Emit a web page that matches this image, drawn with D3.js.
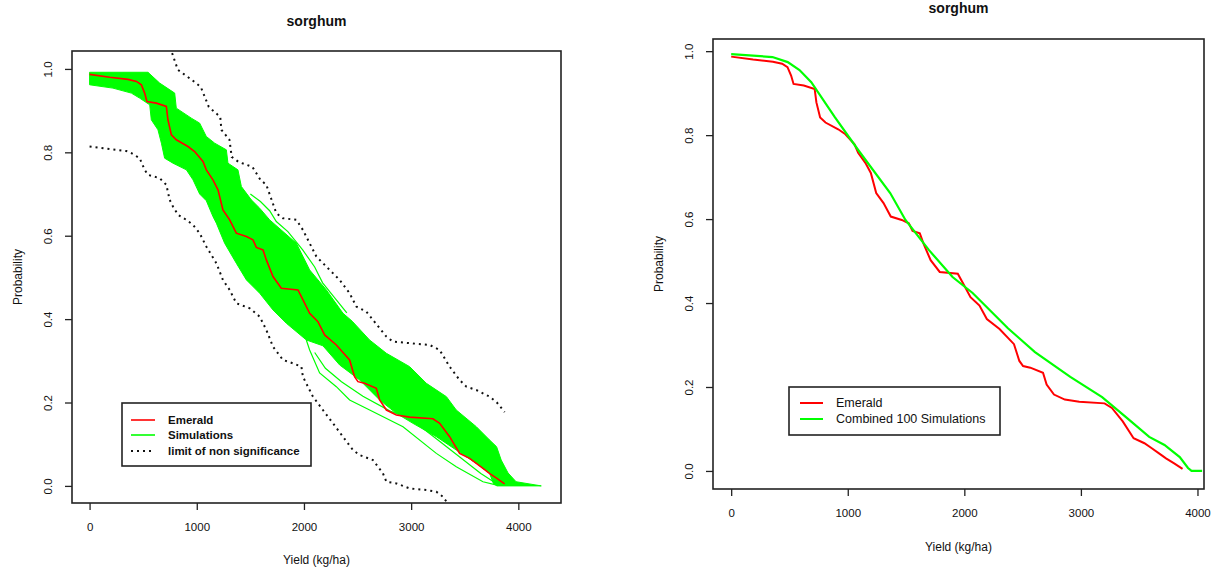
<!DOCTYPE html>
<html>
<head>
<meta charset="utf-8">
<script src="https://cdn.jsdelivr.net/npm/d3@7"></script>
<style>
  body { margin: 0; background: #fff; }
  text { font-family: "Liberation Sans", Arial, sans-serif; fill: #111; }
</style>
</head>
<body>
<svg id="chart" width="1215" height="569"></svg>
<script>
// ---- data (yield kg/ha, exceedance probability) ----
const yieldTicks = [0, 1000, 2000, 3000, 4000];
const probTicks = [0, 0.2, 0.4, 0.6, 0.8, 1.0];
const titleText = "sorghum";
const xLabelText = "Yield (kg/ha)";
const yLabelText = "Probability";
const leftLegend = ["Emerald", "Simulations", "limit of non significance"];
const rightLegend = ["Emerald", "Combined  100 Simulations"];

const emerald = [
  [0, 0.987], [188, 0.98], [358, 0.975], [437, 0.97], [483, 0.962], [514, 0.942],
  [535, 0.922], [623, 0.918], [716, 0.91], [731, 0.878], [763, 0.842], [809, 0.83],
  [918, 0.814], [980, 0.802], [1058, 0.778], [1089, 0.758], [1151, 0.734], [1198, 0.71],
  [1244, 0.662], [1307, 0.638], [1369, 0.606], [1463, 0.598], [1524, 0.59], [1556, 0.572],
  [1618, 0.566], [1649, 0.542], [1711, 0.502], [1789, 0.474], [1944, 0.47], [1991, 0.446],
  [2053, 0.414], [2130, 0.394], [2193, 0.362], [2302, 0.338], [2426, 0.302], [2472, 0.262],
  [2504, 0.25], [2566, 0.246], [2675, 0.234], [2706, 0.206], [2769, 0.182], [2862, 0.17],
  [2986, 0.165], [3203, 0.161], [3266, 0.15], [3359, 0.118], [3452, 0.078], [3545, 0.066],
  [3608, 0.054], [3670, 0.042], [3730, 0.03], [3800, 0.018], [3872, 0.005]
];

const combined = [
  [0, 0.993], [354, 0.986], [485, 0.974], [586, 0.955], [687, 0.926], [889, 0.843],
  [1091, 0.764], [1364, 0.662], [1495, 0.598], [1697, 0.526], [1899, 0.462], [2071, 0.424],
  [2374, 0.34], [2606, 0.283], [2909, 0.224], [3182, 0.176], [3384, 0.129], [3586, 0.081],
  [3717, 0.062], [3848, 0.033], [3919, 0.007], [3949, 0], [4040, 0]
];

// outer edges of the 100 simulation curves
const simUpper = [
  [0, 0.992], [545, 0.992], [654, 0.966], [794, 0.942], [809, 0.906], [949, 0.882],
  [1027, 0.87], [1089, 0.838], [1167, 0.822], [1276, 0.806], [1291, 0.774], [1384, 0.758],
  [1416, 0.718], [1509, 0.686], [1587, 0.666], [1680, 0.638], [1929, 0.582], [2053, 0.518],
  [2209, 0.47], [2364, 0.414], [2450, 0.395], [2612, 0.35], [2769, 0.318], [2986, 0.286],
  [3142, 0.246], [3329, 0.214], [3421, 0.182], [3608, 0.142], [3732, 0.11], [3797, 0.094],
  [3840, 0.062], [3904, 0.031], [3979, 0.01], [4214, 0]
];
const simLower = [
  [0, 0.962], [218, 0.954], [390, 0.942], [467, 0.93], [561, 0.914], [576, 0.878],
  [638, 0.854], [670, 0.822], [700, 0.786], [778, 0.774], [903, 0.758], [965, 0.734],
  [1027, 0.7], [1089, 0.684], [1151, 0.646], [1183, 0.63], [1260, 0.582], [1369, 0.534],
  [1463, 0.494], [1587, 0.462], [1711, 0.422], [1836, 0.39], [2022, 0.35], [2177, 0.336],
  [2333, 0.29], [2520, 0.254], [2706, 0.206], [2862, 0.174], [3017, 0.15], [3235, 0.118],
  [3421, 0.086], [3608, 0.054], [3732, 0.03], [3767, 0.006], [3800, 0]
];
// a few single simulation curves that stand apart from the band
const simOutlierUp = [
  [1500, 0.7], [1594, 0.682], [1680, 0.66], [1742, 0.634], [1850, 0.61], [1988, 0.566],
  [2100, 0.525], [2174, 0.487], [2302, 0.446], [2400, 0.415]
];
const simOutlierLow1 = [
  [2022, 0.35], [2053, 0.326], [2146, 0.271], [2302, 0.238], [2426, 0.206], [2613, 0.182],
  [2924, 0.142], [3235, 0.078], [3421, 0.046], [3670, 0.01], [3800, 0.002]
];
const simOutlierLow2 = [
  [2100, 0.32], [2200, 0.282], [2350, 0.25], [2550, 0.215], [2800, 0.18], [3000, 0.16],
  [3250, 0.11], [3450, 0.07], [3650, 0.03], [3780, 0.008]
];

const limitUpper = [
  [770, 1.038], [823, 0.998], [952, 0.974], [1037, 0.957], [1112, 0.909], [1219, 0.885],
  [1230, 0.854], [1305, 0.83], [1326, 0.789], [1390, 0.777], [1519, 0.765], [1594, 0.734],
  [1649, 0.722], [1742, 0.654], [1804, 0.642], [1929, 0.638], [1990, 0.614], [2053, 0.582],
  [2116, 0.55], [2209, 0.526], [2333, 0.494], [2426, 0.462], [2489, 0.43], [2582, 0.418],
  [2644, 0.398], [2769, 0.358], [2831, 0.346], [3172, 0.338], [3266, 0.326], [3359, 0.286],
  [3452, 0.254], [3515, 0.238], [3608, 0.23], [3732, 0.214], [3800, 0.2], [3872, 0.177]
];
const limitLower = [
  [0, 0.814], [188, 0.808], [343, 0.803], [390, 0.798], [467, 0.786], [514, 0.758],
  [545, 0.746], [654, 0.738], [716, 0.722], [747, 0.686], [778, 0.67], [825, 0.65],
  [903, 0.638], [965, 0.626], [1027, 0.606], [1089, 0.574], [1183, 0.534], [1244, 0.494],
  [1307, 0.47], [1369, 0.438], [1494, 0.426], [1587, 0.406], [1649, 0.374], [1711, 0.334],
  [1804, 0.302], [1897, 0.294], [1976, 0.286], [1990, 0.262], [2084, 0.214], [2177, 0.182],
  [2271, 0.15], [2364, 0.118], [2457, 0.086], [2519, 0.074], [2644, 0.062], [2737, 0.03],
  [2769, 0.01], [2862, 0.006], [2986, -0.006], [3142, -0.01], [3235, -0.014], [3297, -0.026],
  [3350, -0.045]
];

const RED = "#ff0000", GREEN = "#00ff00";
const svg = d3.select("#chart");

function makePanel(p) {
  const x = d3.scaleLinear().domain(p.xDomain).range([p.left, p.right]);
  const y = d3.scaleLinear().domain(p.yDomain).range([p.bottom, p.top]);
  const line = d3.line().x((d) => x(d[0])).y((d) => y(d[1]));

  svg.append("clipPath").attr("id", "clip-" + p.name)
    .append("rect")
    .attr("x", p.left).attr("y", p.top)
    .attr("width", p.right - p.left).attr("height", p.bottom - p.top);

  const plot = svg.append("g").attr("clip-path", `url(#clip-${p.name})`);

  // x axis
  const xAxis = svg.append("g")
    .attr("transform", `translate(0,${p.bottom})`)
    .call(d3.axisBottom(x).tickValues(yieldTicks).tickSize(7).tickPadding(13).tickFormat(d3.format("d")));
  // y axis, labels turned like R's las=0
  const yAxis = svg.append("g")
    .attr("transform", `translate(${p.left},0)`)
    .call(d3.axisLeft(y).tickValues(probTicks).tickSize(7).tickFormat(d3.format(".1f")));
  yAxis.selectAll(".tick text")
    .attr("x", null).attr("dy", "0.35em")
    .attr("text-anchor", "middle")
    .attr("transform", "translate(-24,0) rotate(-90)");
  [xAxis, yAxis].forEach((a) => {
    a.select(".domain").remove();
    a.selectAll(".tick line").attr("stroke", "#222").attr("stroke-width", 1.3);
    a.selectAll(".tick text").attr("fill", "#111")
      .style("font-family", '"Liberation Sans", Arial, sans-serif')
      .style("font-size", "11.5px");
  });

  // box
  svg.append("rect")
    .attr("x", p.left).attr("y", p.top)
    .attr("width", p.right - p.left).attr("height", p.bottom - p.top)
    .attr("fill", "none").attr("stroke", "#222").attr("stroke-width", 1.6);

  svg.append("text")
    .attr("x", (p.left + p.right) / 2).attr("y", p.titleY)
    .attr("text-anchor", "middle").attr("dy", "0.35em")
    .style("font-size", "14px").style("font-weight", "bold")
    .text(titleText);
  svg.append("text")
    .attr("x", (p.left + p.right) / 2).attr("y", p.xLabelY)
    .attr("text-anchor", "middle").attr("dy", "0.35em")
    .style("font-size", "12px")
    .text(xLabelText);
  svg.append("text")
    .attr("transform", `translate(${p.yLabelX},${(p.top + p.bottom) / 2}) rotate(-90)`)
    .attr("text-anchor", "middle").attr("dy", "0.35em")
    .style("font-size", "12px")
    .text(yLabelText);

  return { x, y, line, plot };
}

function drawLegend(box, rows) {
  const g = svg.append("g");
  g.append("rect")
    .attr("x", box.x0).attr("y", box.y0)
    .attr("width", box.x1 - box.x0).attr("height", box.y1 - box.y0)
    .attr("fill", "#fff").attr("stroke", "#222").attr("stroke-width", 1.6);
  rows.forEach((r, i) => {
    const yy = box.rowY[i];
    g.append("line")
      .attr("x1", box.lineX0).attr("x2", box.lineX1)
      .attr("y1", yy).attr("y2", yy)
      .attr("stroke", r.color).attr("stroke-width", r.width)
      .attr("stroke-dasharray", r.dash || null);
    g.append("text")
      .attr("x", box.textX).attr("y", yy).attr("dy", "0.35em")
      .style("font-size", box.fontSize).style("font-weight", box.fontWeight)
      .text(r.label);
  });
}

// ---- left panel: Emerald against the 100 simulations ----
const left = makePanel({
  name: "left", left: 72, right: 561, top: 51, bottom: 503,
  xDomain: [-164, 4398], yDomain: [-0.041, 1.043],
  titleY: 21, xLabelY: 560, yLabelX: 18
});

const band = simUpper.concat(simLower.slice().reverse());
left.plot.append("path")
  .attr("d", left.line(band) + "Z")
  .attr("fill", GREEN).attr("stroke", GREEN).attr("stroke-width", 1);
[simOutlierUp, simOutlierLow1, simOutlierLow2].forEach((s) => {
  left.plot.append("path").attr("d", left.line(s))
    .attr("fill", "none").attr("stroke", GREEN).attr("stroke-width", 1.2);
});
[limitUpper, limitLower].forEach((s) => {
  left.plot.append("path").attr("d", left.line(s))
    .attr("fill", "none").attr("stroke", "#111")
    .attr("stroke-width", 2).attr("stroke-dasharray", "2,4");
});
left.plot.append("path").attr("d", left.line(emerald))
  .attr("fill", "none").attr("stroke", RED).attr("stroke-width", 1.6);

drawLegend(
  { x0: 122, x1: 311, y0: 403, y1: 466, lineX0: 131, lineX1: 155, textX: 168,
    rowY: [420, 435, 451], fontSize: "11.5px", fontWeight: "bold" },
  [
    { label: leftLegend[0], color: RED, width: 1.6 },
    { label: leftLegend[1], color: GREEN, width: 1.6 },
    { label: leftLegend[2], color: "#111", width: 2, dash: "2,4" }
  ]
);

// ---- right panel: Emerald against the combined simulations ----
const right = makePanel({
  name: "right", left: 713, right: 1204, top: 39, bottom: 489,
  xDomain: [-156, 4056], yDomain: [-0.043, 1.029],
  titleY: 8, xLabelY: 547, yLabelX: 659
});
right.plot.append("path").attr("d", right.line(emerald))
  .attr("fill", "none").attr("stroke", RED).attr("stroke-width", 2);
right.plot.append("path").attr("d", right.line(combined))
  .attr("fill", "none").attr("stroke", GREEN).attr("stroke-width", 2.2);

drawLegend(
  { x0: 789, x1: 1000, y0: 387, y1: 435, lineX0: 800, lineX1: 823, textX: 836,
    rowY: [403, 419], fontSize: "12.5px", fontWeight: "normal" },
  [
    { label: rightLegend[0], color: RED, width: 2 },
    { label: rightLegend[1], color: GREEN, width: 2 }
  ]
);
</script>
</body>
</html>
